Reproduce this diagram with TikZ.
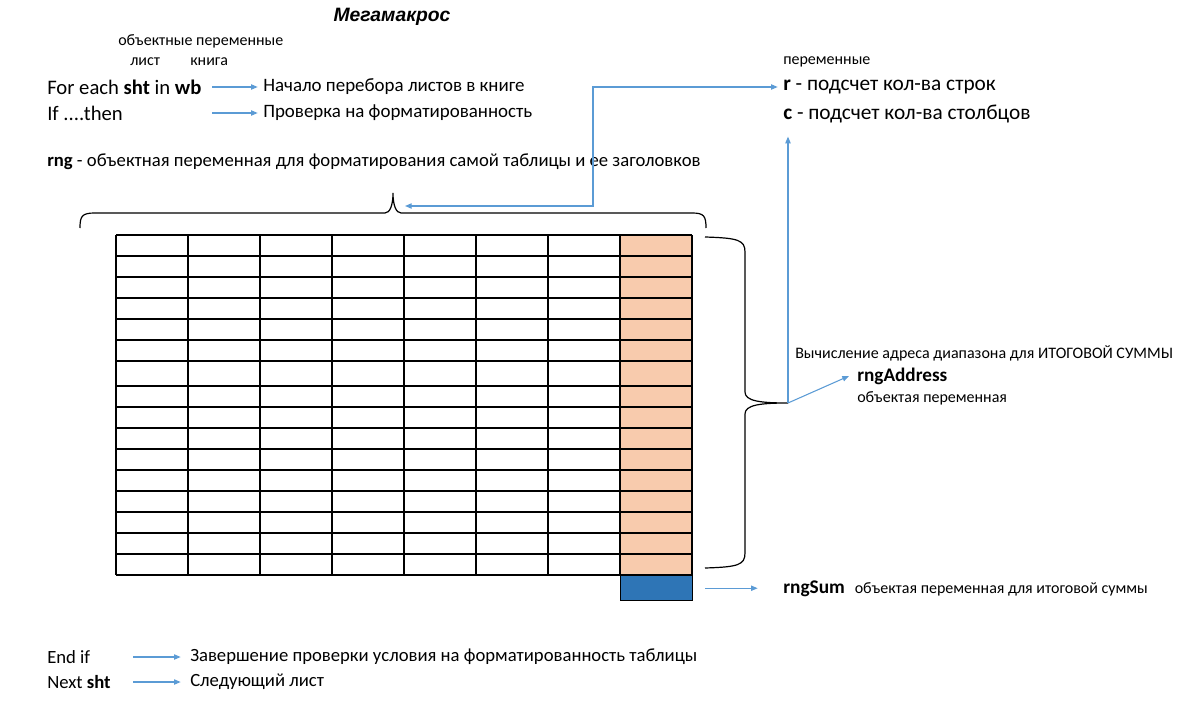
\documentclass[tikz,border=0pt]{standalone}
\usepackage{fontspec}
\setmainfont{Carlito}
\newfontfamily\titlefont{Liberation Sans}
\usetikzlibrary{positioning,arrows.meta}
\definecolor{linkblue}{RGB}{91,155,213}
\definecolor{peach}{RGB}{248,203,173}
\definecolor{sumblue}{RGB}{46,117,182}

\begin{document}
\begin{tikzpicture}[x=0.75pt,y=-0.75pt,
  txt/.style={anchor=west,inner sep=0pt},
  bigtxt/.style={txt,font=\fontsize{15.5}{18}\selectfont},
  ctxt/.style={txt,font=\fontsize{14.2}{16}\selectfont},
  vartxt/.style={txt,font=\fontsize{16}{18}\selectfont},
  midtxt/.style={txt,font=\fontsize{14}{16}\selectfont},
  smalltxt/.style={txt,font=\fontsize{12}{14}\selectfont},
  link/.style={draw=linkblue,line width=0.8pt,-{Triangle[length=5pt,width=4pt]}},
  grid/.style={draw=black,line width=1.1pt}]
\useasboundingbox (0,0) rectangle (1193,710);

\node[font=\titlefont\fontsize{14.5}{16}\selectfont\bfseries\itshape] (title) at (392,17) {Мегамакрос};
\node[smalltxt] (objvars) at (118,41) {объектные переменные};
\node[smalltxt] (sheetlbl) at (130,62) {лист};
\node[smalltxt] (booklbl) at (190,62) {книга};
\node[bigtxt] (forline) at (47,87) {For each \textbf{sht} in \textbf{wb}};
\node[bigtxt] (ifline) at (47,113) {If ....then};
\node[ctxt] (begintxt) at (263,87) {Начало перебора листов в книге};
\node[ctxt] (checktxt) at (263,113) {Проверка на форматированность};
\node[midtxt] (rngtxt) at (47,162) {\textbf{rng} - объектная переменная для форматирования самой таблицы и ее заголовков};

\node[smalltxt] (varslbl) at (783,62) {переменные};
\node[vartxt] (rtxt) at (783,87) {\textbf{r} - подсчет кол-ва строк};
\node[vartxt] (ctxt) at (783,114) {\textbf{c} - подсчет кол-ва столбцов};

\node[smalltxt] (addrnote) at (795,353) {Вычисление адреса диапазона для ИТОГОВОЙ СУММЫ};
\node[txt,font=\fontsize{14.4}{16}\selectfont\bfseries] (addrname) at (857,376) {rngAddress};
\node[smalltxt] (addrtype) at (857,398) {объектая переменная};

\node[txt,font=\fontsize{14.5}{16}\selectfont\bfseries] (sumname) at (783,589) {rngSum};
\node[smalltxt,right=7pt of sumname] (sumtype) {объектая переменная для итоговой суммы};

\node[midtxt] (endif) at (47,657) {End if};
\node[midtxt] (endtxt) at (190,657) {Завершение проверки условия на форматированность таблицы};
\node[midtxt] (nextsht) at (47,682) {Next \textbf{sht}};
\node[midtxt] (nexttxt) at (190,682) {Следующий лист};

\fill[peach] (620,235) rectangle (692,575);
\node[grid,fill=sumblue,minimum width=54pt,minimum height=18.75pt,anchor=north west] (sumcell) at (620,575) {};
\foreach \y in {235,256,277,298,319,340,361,386,407,428,449,470,491,512,533,554,575}
  \draw[grid] (116,\y) -- (692,\y);
\foreach \x in {116,188,...,692}
  \draw[grid] (\x,235) -- (\x,575);

\draw[line width=0.9pt] (80,228) .. controls (80,216) and (82,213) .. (95,213) -- (385,213)
  .. controls (390,213) and (393,205) .. (393,193) coordinate (toptip)
  .. controls (393,205) and (396,213) .. (401,213) -- (692,213)
  .. controls (704,213) and (706,216) .. (706,228);
\draw[line width=0.9pt] (705,237) .. controls (738,238) and (745,240) .. (745,252) -- (745,392)
  .. controls (745,401) and (760,403) .. (788,403) coordinate (sidetip)
  .. controls (760,403) and (745,405) .. (745,414) -- (745,553)
  .. controls (745,565) and (738,567) .. (705,568);

\coordinate (fortail) at (212,87);
\coordinate (iftail) at (212,113);
\coordinate (endtail) at (133,657);
\coordinate (nexttail) at (133,682);
\coordinate (elbow) at (593,206);
\draw[link] (fortail) -- ([xshift=-4pt]begintxt.west);
\draw[link] (iftail) -- ([xshift=-4pt]checktxt.west);
\draw[link] (endtail) -- ([xshift=-7pt]endtxt.west);
\draw[link] (nexttail) -- ([xshift=-7pt]nexttxt.west);
\draw[link,{Triangle[length=5pt,width=4pt]}-{Triangle[length=5pt,width=4pt]}] ([shift={(12,13)}]toptip) -- (elbow) |- ([xshift=-4pt]rtxt.west);
\draw[link] (sidetip) -- ([yshift=-10pt]sidetip |- ctxt.south);
\draw[link] (sidetip) -- ([xshift=-6pt]addrname.west);
\draw[link] ([xshift=9pt]sumcell.east) -- ([xshift=-19pt]sumname.west |- sumcell.east);
\end{tikzpicture}
\end{document}
